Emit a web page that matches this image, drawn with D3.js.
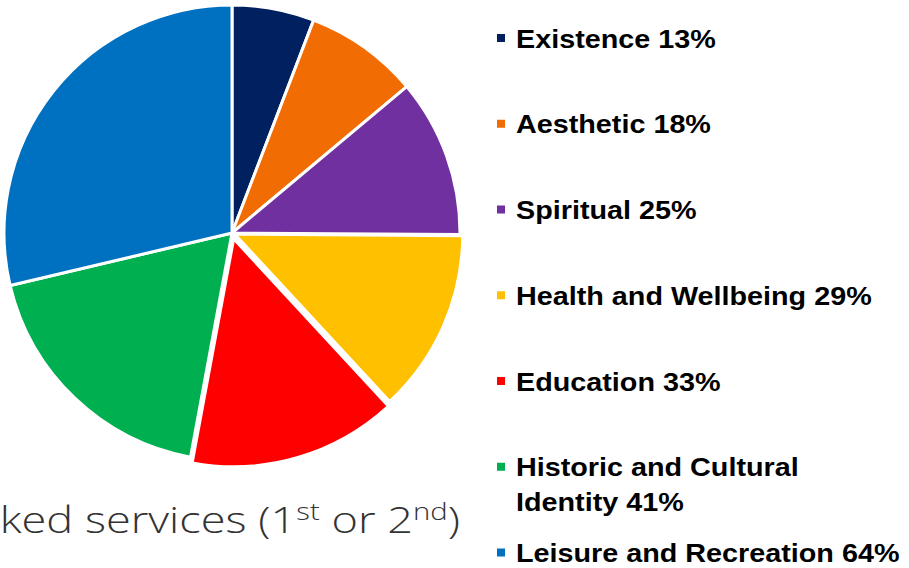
<!DOCTYPE html>
<html>
<head>
<meta charset="utf-8">
<script src="https://cdn.jsdelivr.net/npm/d3@7"></script>
<style>
  body { margin: 0; background: #fff; }
  svg { display: block; }
</style>
</head>
<body>
<div class="chart"></div>
<script>
// share of respondents ranking each service 1st or 2nd
const categories = [
  "Existence",
  "Aesthetic",
  "Spiritual",
  "Health and Wellbeing",
  "Education",
  "Historic and Cultural Identity",
  "Leisure and Recreation",
]
const percents = [13, 18, 25, 29, 33, 41, 64]
const colors = ["#002060", "#F26C04", "#7030A0", "#FFC000", "#FF0000", "#00B050", "#0070C0"]
// legend text is wrapped like the original slide
const legendLines = [
  ["Existence 13%"],
  ["Aesthetic 18%"],
  ["Spiritual 25%"],
  ["Health and Wellbeing 29%"],
  ["Education 33%"],
  ["Historic and Cultural", "Identity 41%"],
  ["Leisure and Recreation 64%"],
]

const width = 909
const height = 568
const cx = 232
const cy = 233
const radius = 228
// a couple of slices sit slightly pulled out of the pie
const pullOut = { Education: 6, "Health and Wellbeing": 3 }

const data = categories.map((c, i) => ({ name: c, value: percents[i], color: colors[i], lines: legendLines[i] }))

const svg = d3
  .select(".chart")
  .append("svg")
  .attr("width", width)
  .attr("height", height)
  .attr("viewBox", [0, 0, width, height])

// pie, clockwise from 12 o'clock, kept in data order
const pie = d3.pie().sort(null).value((d) => d.value)
const arc = d3.arc().innerRadius(0).outerRadius(radius)

svg
  .append("g")
  .attr("transform", `translate(${cx},${cy})`)
  .selectAll("path")
  .data(pie(data))
  .join("path")
  .attr("d", arc)
  .attr("fill", (d) => d.data.color)
  .attr("stroke", "#fff")
  .attr("stroke-width", 3)
  .attr("stroke-linejoin", "round")
  .attr("transform", (d) => {
    const k = pullOut[d.data.name] || 0
    const a = (d.startAngle + d.endAngle) / 2
    return `translate(${k * Math.sin(a)},${-k * Math.cos(a)})`
  })

// legend rows, evenly spaced
const y = d3.scalePoint().domain(categories).range([47.5, 562])

const legend = svg
  .append("g")
  .selectAll("g")
  .data(data)
  .join("g")
  .attr("transform", (d) => `translate(0,${y(d.name)})`)

legend
  .append("rect")
  .attr("x", 497)
  .attr("y", -13.5)
  .attr("width", 8)
  .attr("height", 8)
  .attr("fill", (d) => d.color)

legend
  .append("text")
  .attr("transform", "translate(516,0) scale(1.15,1)")
  .attr("font-family", "'Liberation Sans', Arial, sans-serif")
  .attr("font-weight", "bold")
  .attr("font-size", "25px")
  .attr("fill", "#000")
  .selectAll("tspan")
  .data((d) => d.lines)
  .join("tspan")
  .attr("x", 0)
  .attr("dy", (d, i) => (i === 0 ? 0 : 35))
  .text((d) => d)

// caption under the pie (runs off the left edge as in the slide)
const caption = svg
  .append("text")
  .attr("transform", "translate(460,533) scale(1.22,1)")
  .attr("text-anchor", "end")
  .attr("font-family", "'Open Sans', Lato, sans-serif")
  .attr("font-weight", 300)
  .attr("font-size", "37px")
  .attr("fill", "#333")

caption.append("tspan").text("ranked services (1")
caption.append("tspan").attr("font-size", "24px").attr("dy", -13).text("st")
caption.append("tspan").attr("dy", 13).text(" or 2")
caption.append("tspan").attr("font-size", "24px").attr("dy", -13).text("nd")
caption.append("tspan").attr("dy", 13).text(")")
</script>
</body>
</html>
